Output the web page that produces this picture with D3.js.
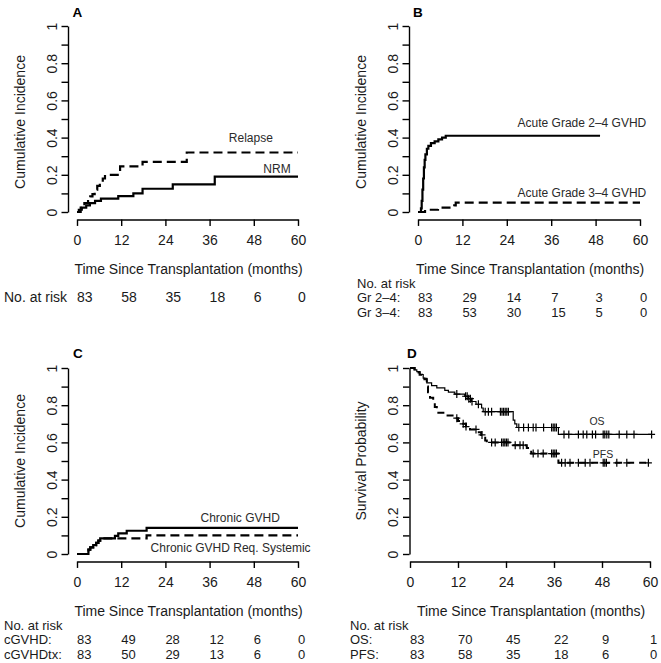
<!DOCTYPE html>
<html><head><meta charset="utf-8">
<script src="https://cdn.jsdelivr.net/npm/d3@7"></script>
<style>
body{margin:0;background:#fff;}
svg{display:block;font-family:"Liberation Sans",Arial,Helvetica,sans-serif;}
</style></head><body>
<svg id="chart" width="661" height="663"></svg>
<script>
// ---------- data ----------
const timeTicks = [0, 12, 24, 36, 48, 60];
const probTicks = [0, 0.1, 0.2, 0.3, 0.4, 0.5, 0.6, 0.7, 0.8, 0.9, 1];
const probLabels = ["0", "", "0.2", "", "0.4", "", "0.6", "", "0.8", "", "1"];

// Panel A
const relapseT = [0, 1, 2, 3, 3.6, 4.2, 4.8, 5.5, 6.2, 7, 7.6, 11.7, 17.8, 29.8, 60];
const relapseV = [0, 0.024, 0.048, 0.072, 0.084, 0.096, 0.12, 0.14, 0.16, 0.18, 0.2, 0.245, 0.27, 0.32, 0.32];
const nrmT = [0, 0.5, 1.3, 2.5, 3.5, 4.9, 6.5, 11.2, 15.3, 17.8, 26, 37.4, 60];
const nrmV = [0, 0.012, 0.024, 0.036, 0.048, 0.06, 0.072, 0.085, 0.10, 0.125, 0.148, 0.19, 0.19];
const riskA = [83, 58, 35, 18, 6, 0];

// Panel B
const agvhd24T = [0, 0.8, 1.0, 1.2, 1.4, 1.6, 1.8, 2.0, 2.4, 2.8, 3.5, 4.5, 5.5, 6.5, 7.5, 49.2];
const agvhd24V = [0, 0.02, 0.06, 0.12, 0.18, 0.24, 0.28, 0.31, 0.34, 0.355, 0.37, 0.38, 0.39, 0.40, 0.41, 0.41];
const agvhd34T = [0, 1.9, 5.4, 9.8, 10.2, 60];
const agvhd34V = [0, 0.012, 0.024, 0.036, 0.05, 0.05];
const riskGr24 = [83, 29, 14, 7, 3, 0];
const riskGr34 = [83, 53, 30, 15, 5, 0];

// Panel C
const cgvhdT = [0, 3.1, 3.6, 4.4, 5.2, 5.8, 6.3, 10.3, 11.2, 13.5, 18.9, 60];
const cgvhdV = [0, 0.024, 0.036, 0.048, 0.06, 0.072, 0.084, 0.097, 0.111, 0.125, 0.14, 0.14];
const cgvhdtxT = [0, 3.1, 3.6, 4.4, 5.2, 5.8, 6.3, 18.9, 60];
const cgvhdtxV = [0, 0.024, 0.036, 0.048, 0.06, 0.072, 0.084, 0.10, 0.10];
const riskCg = [83, 49, 28, 12, 6, 0];
const riskCgTx = [83, 50, 29, 13, 6, 0];

// Panel D
const osT = [0, 1.0, 1.7, 2.5, 3.3, 4.2, 5.4, 6.7, 8.7, 9.6, 11.2, 13.7, 14.6, 15.4, 16.5, 17.9, 18.3, 25.8, 26.2, 26.7, 37.1, 60.4];
const osV = [1, 0.99, 0.98, 0.965, 0.945, 0.92, 0.905, 0.893, 0.88, 0.87, 0.86, 0.848, 0.835, 0.82, 0.805, 0.785, 0.765, 0.72, 0.70, 0.68, 0.643, 0.643];
const osCensor = [11.7, 13.9, 14.3, 14.7, 15.1, 15.5, 17.1, 18.8, 19.6, 20.4, 22.6, 23.0, 23.4, 23.8, 24.2, 24.6, 27.2, 28.4, 29.6, 30.8, 31.5, 33.4, 35.4, 35.8, 36.2, 36.6, 38.5, 39.7, 42.1, 43.3, 44.2, 45.6, 46.4, 48.3, 48.7, 49.2, 49.7, 52.3, 54.2, 56.0, 60.4];
const pfsT = [0, 1.2, 1.8, 2.4, 3.0, 3.6, 4.2, 4.5, 5.0, 5.8, 6.2, 6.7, 8.7, 11, 12, 13, 14, 15, 17.2, 17.8, 18.3, 18.8, 19.2, 25.8, 29.2, 29.8, 30.3, 37.1, 59.6];
const pfsV = [1, 0.988, 0.976, 0.964, 0.952, 0.94, 0.90, 0.87, 0.84, 0.82, 0.79, 0.76, 0.745, 0.73, 0.715, 0.70, 0.685, 0.67, 0.655, 0.64, 0.625, 0.61, 0.60, 0.585, 0.57, 0.555, 0.54, 0.49, 0.49];
const pfsCensor = [11.7, 13.3, 14.0, 16.5, 18.0, 20.4, 21.3, 22.9, 23.3, 23.7, 24.1, 24.5, 26.3, 27.5, 28.3, 30.8, 32.0, 33.3, 35.4, 35.8, 36.2, 36.6, 37.9, 38.8, 40.0, 42.1, 43.8, 45.0, 48.3, 48.7, 49.1, 51.7, 54.2, 59.6];
const riskOS = [83, 70, 45, 22, 9, 1];
const riskPFS = [83, 58, 35, 18, 6, 0];

// ---------- drawing ----------
const svg = d3.select("#chart");
const TXT = "#1a1a1a";

function stepValue(ts, vs, t) {
  const i = d3.bisectRight(ts, t) - 1;
  return vs[Math.max(0, i)];
}

function panel(cfg) {
  const x = d3.scaleLinear().domain([0, 60]).range(cfg.xr);
  const y = d3.scaleLinear().domain([0, 1]).range(cfg.yr);
  const yb = cfg.yr[0] + 0.04 * (cfg.yr[0] - cfg.yr[1]); // bottom of plot region
  const g = svg.append("g");

  // letter
  g.append("text").attr("x", cfg.letterPos[0]).attr("y", cfg.letterPos[1])
    .attr("font-size", 13.5).attr("font-weight", "bold").attr("fill", "#000").text(cfg.letter);

  // y axis
  const ya = g.append("g").attr("transform", `translate(${cfg.yaxisX},0)`)
    .call(d3.axisLeft(y).tickValues(probTicks).tickSize(6.5).tickSizeOuter(0)
      .tickFormat((d, i) => probLabels[i]));
  ya.select(".domain").attr("stroke", "#000").attr("stroke-width", 1.4);
  ya.selectAll(".tick line").attr("stroke", "#000").attr("stroke-width", 1.4);
  ya.selectAll(".tick text").attr("x", null).attr("dy", null)
    .attr("transform", "translate(-11.5,0) rotate(-90)")
    .attr("text-anchor", "middle").attr("font-size", 14)
    .attr("font-family", "Liberation Sans, Arial, sans-serif").attr("fill", TXT);

  // x axis
  const xa = g.append("g").attr("transform", `translate(0,${yb})`)
    .call(d3.axisBottom(x).tickValues(timeTicks).tickSize(6.5).tickSizeOuter(0));
  xa.select(".domain").attr("stroke", "#000").attr("stroke-width", 1.4);
  xa.selectAll(".tick line").attr("stroke", "#000").attr("stroke-width", 1.4);
  xa.selectAll(".tick text").attr("y", 26).attr("dy", null)
    .attr("font-size", 14).attr("font-family", "Liberation Sans, Arial, sans-serif").attr("fill", TXT);

  // axis titles
  const ymid = (cfg.yr[0] + cfg.yr[1]) / 2 + (cfg.ylabShift || 0);
  g.append("text").attr("transform", `translate(${cfg.yaxisX - 43.5},${ymid}) rotate(-90)`)
    .attr("text-anchor", "middle").attr("font-size", 14).attr("fill", TXT).text(cfg.ylab);
  const xmid = (cfg.xr[0] + cfg.xr[1]) / 2 + 1;
  g.append("text").attr("x", xmid).attr("y", yb + 54.5)
    .attr("text-anchor", "middle").attr("font-size", 14).attr("fill", TXT)
    .text("Time Since Transplantation (months)");

  // curves
  const line = d3.line().x(d => x(d[0])).y(d => y(d[1])).curve(d3.curveStepAfter);
  cfg.series.forEach(s => {
    const pts = s.t.map((t, i) => [t, s.v[i]]);
    g.append("path").attr("d", line(pts)).attr("fill", "none")
      .attr("stroke", "#000").attr("stroke-width", s.w)
      .attr("stroke-dasharray", s.dash || null)
      .attr("stroke-linejoin", "miter").attr("stroke-linecap", "butt");
    if (s.censor) {
      s.censor.forEach(c => {
        const cx = x(c), cy = y(stepValue(s.t, s.v, c));
        g.append("path").attr("d", `M${cx},${cy - 4}V${cy + 4}M${cx - 3.5},${cy}H${cx + 3.5}`)
          .attr("stroke", "#000").attr("stroke-width", 1.2);
      });
    }
  });

  // curve labels
  cfg.labels.forEach(l => {
    g.append("text").attr("x", x(l.t)).attr("y", y(l.v)).attr("dy", "0.35em")
      .attr("text-anchor", "middle").attr("font-size", l.size || 12).attr("fill", "#2a2a2a").text(l.text);
  });

  // risk table
  const rf = cfg.risk.length > 1 ? 13 : 14;
  cfg.risk.forEach(r => {
    const ry = yb + r.dy + 4.6;
    g.append("text").attr("x", cfg.riskLabelX).attr("y", ry)
      .attr("font-size", rf).attr("fill", TXT).text(r.label);
    if (r.values) {
      r.values.forEach((val, i) => {
        g.append("text").attr("x", x(timeTicks[i])).attr("y", ry)
          .attr("font-size", rf).attr("fill", TXT).text(val);
      });
    }
  });
}

panel({
  letter: "A", letterPos: [72.5, 17],
  xr: [77, 298], yr: [212, 26], yaxisX: 68, ylab: "Cumulative Incidence", ylabShift: 3,
  series: [
    { t: relapseT, v: relapseV, w: 2.2, dash: "9,5" },
    { t: nrmT, v: nrmV, w: 2.2 }
  ],
  labels: [
    { text: "Relapse", t: 47.2, v: 0.398 },
    { text: "NRM", t: 54.3, v: 0.231 }
  ],
  riskLabelX: 4,
  risk: [{ label: "No. at risk", dy: 78, values: riskA }]
});

panel({
  letter: "B", letterPos: [413, 17],
  xr: [418, 640], yr: [212, 26], yaxisX: 409, ylab: "Cumulative Incidence", ylabShift: 3,
  series: [
    { t: agvhd24T, v: agvhd24V, w: 2.2 },
    { t: agvhd34T, v: agvhd34V, w: 2.2, dash: "9,5" }
  ],
  labels: [
    { text: "Acute Grade 2\u20134 GVHD", t: 44.3, v: 0.478 },
    { text: "Acute Grade 3\u20134 GVHD", t: 44.3, v: 0.105 }
  ],
  riskLabelX: 357,
  risk: [
    { label: "No. at risk", dy: 63.5 },
    { label: "Gr 2\u20134:", dy: 78, values: riskGr24 },
    { label: "Gr 3\u20134:", dy: 92.5, values: riskGr34 }
  ]
});

panel({
  letter: "C", letterPos: [73, 358],
  xr: [77, 298], yr: [554, 368], yaxisX: 68, ylab: "Cumulative Incidence",
  series: [
    { t: cgvhdT, v: cgvhdV, w: 2.2 },
    { t: cgvhdtxT, v: cgvhdtxV, w: 2.2, dash: "9,5" }
  ],
  labels: [
    { text: "Chronic GVHD", t: 44.3, v: 0.194 },
    { text: "Chronic GVHD Req. Systemic", t: 41.7, v: 0.032 }
  ],
  riskLabelX: 4,
  risk: [
    { label: "No. at risk", dy: 63.5 },
    { label: "cGVHD:", dy: 78, values: riskCg },
    { label: "cGVHDtx:", dy: 92.5, values: riskCgTx }
  ]
});

panel({
  letter: "D", letterPos: [407, 358],
  xr: [410, 650], yr: [554, 368], yaxisX: 409.5, ylab: "Survival Probability",
  series: [
    { t: osT, v: osV, w: 1.2, censor: osCensor },
    { t: pfsT, v: pfsV, w: 2, dash: "7,5", censor: pfsCensor }
  ],
  labels: [
    { text: "OS", t: 46.75, v: 0.715, size: 10.5 },
    { text: "PFS", t: 48.25, v: 0.538, size: 10.5 }
  ],
  riskLabelX: 350,
  risk: [
    { label: "No. at risk", dy: 63.5 },
    { label: "OS:", dy: 78, values: riskOS },
    { label: "PFS:", dy: 92.5, values: riskPFS }
  ]
});
</script>
</body></html>
